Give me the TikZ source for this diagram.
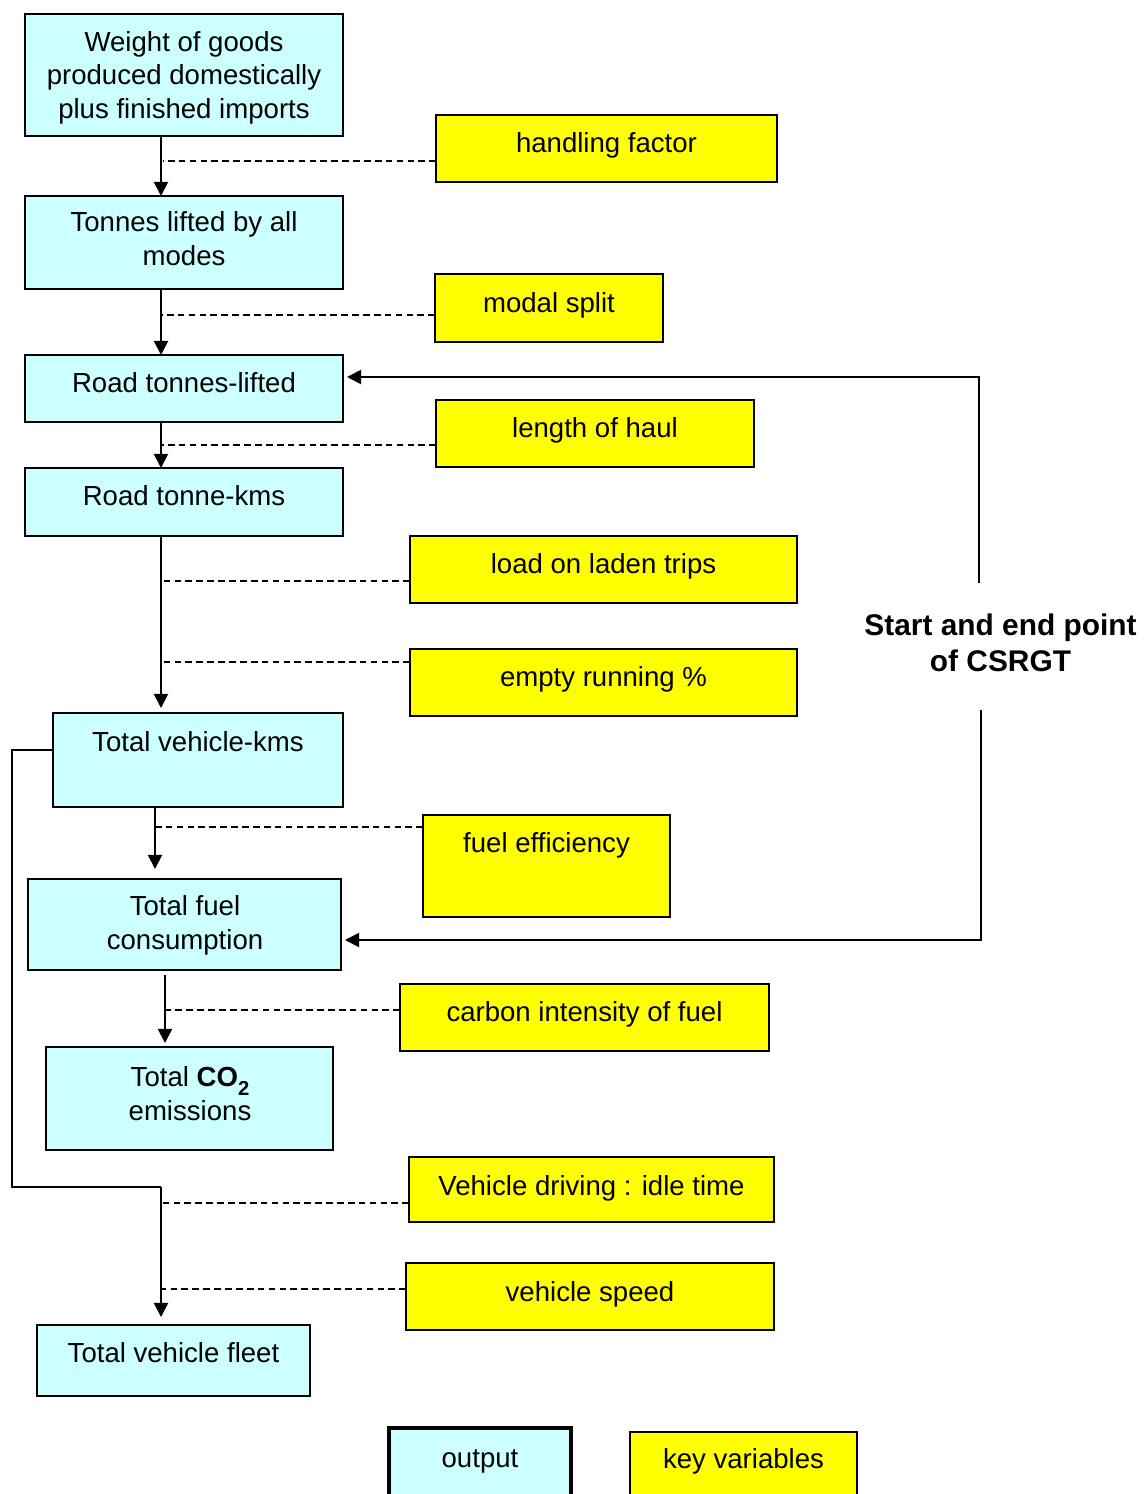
\documentclass[tikz,border=0pt]{standalone}
\usepackage{fontspec}
\setmainfont{Liberation Sans}
\usetikzlibrary{calc,arrows.meta}
\definecolor{outfill}{HTML}{CCFFFF}
\definecolor{keyfill}{HTML}{FFFF00}

\tikzset{
  outbox/.style={draw=black, line width=0.8pt, fill=outfill, inner sep=0pt, outer sep=0pt, anchor=north west},
  keybox/.style={draw=black, line width=0.8pt, fill=keyfill, inner sep=0pt, outer sep=0pt, anchor=north west},
  txt/.style={anchor=base, align=center, inner sep=0pt, font=\fontsize{15.7}{18.8}\selectfont},
  boldtxt/.style={txt, font=\fontsize{17}{20.4}\selectfont\bfseries},
  arr/.style={line width=1.1pt, -{Triangle[length=8pt,width=8pt]}},
  dsh/.style={line width=0.8pt, dash pattern=on 3.8pt off 2.4pt},
  link/.style={line width=0.8pt},
}
% box from pixel corner (x1,y1) to (x2,y2)
\newcommand\bx[6]{\node[#1, minimum width={(#5-#3)*0.02cm}, minimum height={(#6-#4)*0.02cm}] (#2) at (#3,#4) {};}

\begin{document}
\begin{tikzpicture}[x=0.02cm,y=-0.02cm]
\useasboundingbox (0,0) rectangle (1143,1494);
\clip (0,0) rectangle (1143,1494);
\fill[white] (0,0) rectangle (1143,1494);

% output boxes
\bx{outbox}{w}{25}{14}{343}{136}
\bx{outbox}{t}{25}{196}{343}{289}
\bx{outbox}{rl}{25}{355}{343}{422}
\bx{outbox}{rk}{25}{468}{343}{536}
\bx{outbox}{v}{53}{713}{343}{807}
\bx{outbox}{fc}{28}{879}{341}{970}
\bx{outbox}{co}{46}{1047}{333}{1150}
\bx{outbox}{fl}{37}{1325}{310}{1396}

% key variable boxes
\bx{keybox}{hf}{436}{115}{777}{182}
\bx{keybox}{ms}{435}{274}{663}{342}
\bx{keybox}{lh}{436}{400}{754}{467}
\bx{keybox}{ll}{410}{536}{797}{603}
\bx{keybox}{er}{410}{649}{797}{716}
\bx{keybox}{fe}{423}{815}{670}{917}
\bx{keybox}{ci}{400}{984}{769}{1051}
\bx{keybox}{dt}{409}{1157}{774}{1222}
\bx{keybox}{vs}{406}{1263}{774}{1330}

% legend
\bx{outbox,line width=2pt}{lo}{389}{1428}{571}{1520}
\bx{keybox}{lk}{630}{1432}{857}{1520}

% texts (anchored at the baseline of the last line)
\node[txt] at (184,118) {Weight of goods\\produced domestically\\plus finished imports};
\node[txt] at (184,265) {Tonnes lifted by all\\modes};
\node[txt] at (184,392) {Road tonnes-lifted};
\node[txt] at (184,505) {Road tonne-kms};
\node[txt] at (198,751) {Total vehicle-kms};
\node[txt] at (185,949) {Total fuel\\consumption};
\node[txt] at (190,1120) {Total \textbf{CO}\raisebox{-0.32em}{\fontsize{11.5}{12}\selectfont\bfseries 2}\\emissions};
\node[txt] at (173.5,1362) {Total vehicle fleet};

\node[txt] at (606.5,152) {handling factor};
\node[txt] at (549,312) {modal split};
\node[txt] at (595,437) {length of haul};
\node[txt] at (603.5,573) {load on laden trips};
\node[txt] at (603.5,686) {empty running \%};
\node[txt] at (546.5,852) {fuel efficiency};
\node[txt] at (584.5,1021) {carbon intensity of fuel};
\node[txt] at (591.5,1195) {Vehicle driving : idle time};
\node[txt] at (590,1301) {vehicle speed};

\node[txt] at (480,1467) {output};
\node[txt] at (743.5,1468) {key variables};

\node[boldtxt] (lab) at (1000.5,671) {Start and end point\\of CSRGT};

% main chain
\draw[arr] ($(w.south west)+(136,0)$) -- ($(t.north west)+(136,0)$);
\draw[arr] ($(t.south west)+(136,0)$) -- ($(rl.north west)+(136,0)$);
\draw[arr] ($(rl.south west)+(136,0)$) -- ($(rk.north west)+(136,0)$);
\draw[arr] ($(rk.south west)+(136,0)$) -- ($(v.north west)+(108,-5)$);
\draw[arr] ($(v.south west)+(102,0)$) -- ($(fc.north west)+(127,-10)$);
\draw[arr] ($(fc.south west)+(137,5)$) -- ($(co.north west)+(119,-4)$);

% key variables feeding the chain
\draw[dsh] ($(hf.south west)+(0,-21)$) -- ++(-273,0);
\draw[dsh] ($(ms.south west)+(0,-27)$) -- ++(-273,0);
\draw[dsh] ($(lh.south west)+(0,-22)$) -- ++(-274,0);
\draw[dsh] ($(ll.south west)+(0,-22)$) -- ++(-248,0);
\draw[dsh] ($(er.south west)+(0,-54)$) -- ++(-248,0);
\draw[dsh] ($(fe.north west)+(0,12)$) -- ++(-268,0);
\draw[dsh] ($(ci.north west)+(0,26)$) -- ++(-235,0);
\draw[dsh] ($(dt.south west)+(0,-19)$) -- ++(-247,0);
\draw[dsh] ($(vs.south west)+(0,-41)$) -- ++(-244,0);

% vehicle-kms to vehicle fleet
\coordinate (j) at (161,1187);
\draw[link] ($(v.west)+(0,-10)$) -- ++(-41,0) |- (j);
\draw[arr] (j) -- ($(fl.north west)+(124,-8)$);

% CSRGT loop
\coordinate (s1) at (979,583);
\coordinate (s2) at (981,710);
\draw[arr] (s1) |- ($(rl.north east)+(4,22)$);
\draw[arr] (s2) |- ($(fc.south east)+(4,-30)$);
\end{tikzpicture}
\end{document}
